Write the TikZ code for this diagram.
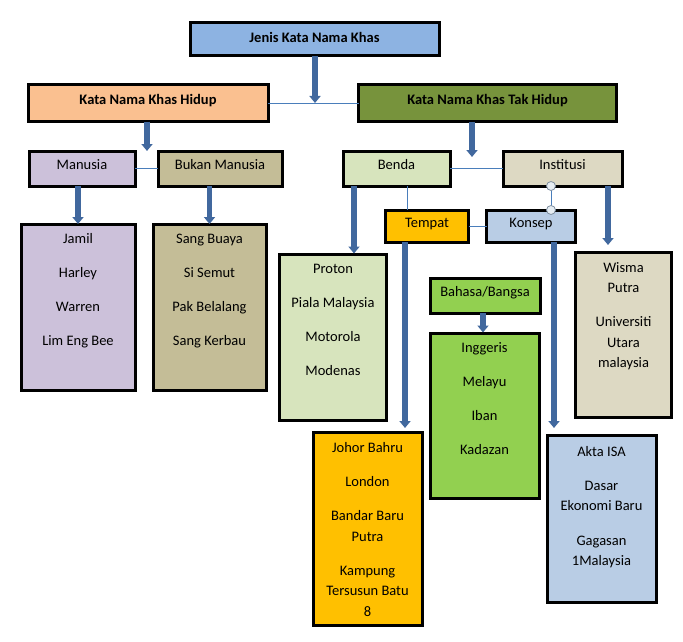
\documentclass[tikz,border=0pt]{standalone}
\usepackage{fontspec}
\setmainfont{Carlito}
\usetikzlibrary{arrows.meta}
\definecolor{cJenis}{HTML}{8DB3E2}
\definecolor{cHidup}{HTML}{FAC090}
\definecolor{cTak}{HTML}{77933C}
\definecolor{cManusia}{HTML}{CCC1DA}
\definecolor{cBukan}{HTML}{C4BD97}
\definecolor{cBenda}{HTML}{D7E4BD}
\definecolor{cInst}{HTML}{DDD9C3}
\definecolor{cTempat}{HTML}{FFC000}
\definecolor{cKonsep}{HTML}{B9CDE5}
\definecolor{cBahasa}{HTML}{92D050}
\definecolor{cArrow}{HTML}{41689E}
\definecolor{cLine}{HTML}{4A7EBB}
\definecolor{cHandle}{HTML}{E6EDF3}
\definecolor{cHandleB}{HTML}{7F8FA0}
\tikzset{
  box/.style={draw=black, line width=3pt, rectangle, inner sep=0pt, outer sep=0pt,
    font=\fontsize{14.5}{20.5}\selectfont, text height=9pt, text depth=6.6pt},
  listtxt/.style={inner sep=0pt, outer sep=0pt, align=center, anchor=north,
    font=\fontsize{14.5}{20.5}\selectfont},
  bigarrow/.style={draw=cArrow, line width=5.3pt, -{Triangle[width=11pt,length=7pt]}},
  thinline/.style={draw=cLine, line width=0.9pt},
  handle/.style={circle, draw=cHandleB, fill=cHandle, line width=0.8pt, minimum size=9pt, inner sep=0pt},
}
\newcommand{\st}{\rule{0pt}{12pt}}
\begin{document}
\begin{tikzpicture}[x=1pt,y=-1pt]
\useasboundingbox (0,0) rectangle (683,642);
% boxes
\node[box, fill=cJenis, minimum width=249pt, minimum height=33pt, text height=9pt, text depth=3pt] (jenis) at (314.5,39.5) {\bfseries Jenis Kata Nama Khas};
\node[box, fill=cHidup, minimum width=240pt, minimum height=37pt] (hidup) at (148,103) {\bfseries Kata Nama Khas Hidup};
\node[box, fill=cTak, minimum width=258pt, minimum height=37pt] (tak) at (487.5,103) {\bfseries Kata Nama Khas Tak Hidup};
\node[box, fill=cManusia, minimum width=106pt, minimum height=35pt] (manusia) at (82,168.5) {Manusia};
\node[box, fill=cBukan, minimum width=124pt, minimum height=35pt] (bukan) at (220,168.5) {Bukan Manusia};
\node[box, fill=cManusia, minimum width=114pt, minimum height=166pt] (jamil) at (78,307) {};
\node[box, fill=cBukan, minimum width=113pt, minimum height=166pt] (sang) at (209.5,307) {};
\node[box, fill=cBenda, minimum width=107pt, minimum height=35pt] (benda) at (396.5,168.5) {Benda};
\node[box, fill=cInst, minimum width=119pt, minimum height=35pt] (inst) at (562.5,168.5) {Institusi};
\node[box, fill=cTempat, minimum width=83pt, minimum height=32pt] (tempat) at (427,226) {Tempat};
\node[box, fill=cKonsep, minimum width=89pt, minimum height=32pt] (konsep) at (531,226) {Konsep};
\node[box, fill=cBenda, minimum width=107pt, minimum height=166pt] (proton) at (333,337) {};
\node[box, fill=cInst, minimum width=96pt, minimum height=165pt] (wisma) at (623.5,334.5) {};
\node[box, fill=cBahasa, minimum width=110pt, minimum height=35pt] (bahasa) at (485,295.5) {Bahasa/Bangsa};
\node[box, fill=cBahasa, minimum width=109pt, minimum height=165pt] (inggeris) at (484.5,415.5) {};
\node[box, fill=cTempat, minimum width=109pt, minimum height=193pt] (johor) at (367.5,528.5) {};
\node[box, fill=cKonsep, minimum width=109pt, minimum height=167pt] (akta) at (601.5,518.5) {};
% list texts (first baseline = anchor y + 12)
\node[listtxt] (tjamil) at (78,231) {\st Jamil\\[13.8pt] Harley\\[13.8pt] Warren\\[13.8pt] Lim Eng Bee};
\node[listtxt] (tsang) at (209.5,231) {\st Sang Buaya\\[13.8pt] Si Semut\\[13.8pt] Pak Belalang\\[13.8pt] Sang Kerbau};
\node[listtxt] (tproton) at (333,261) {\st Proton\\[13.8pt] Piala Malaysia\\[13.8pt] Motorola\\[13.8pt] Modenas};
\node[listtxt] (twisma) at (623.5,260) {\st Wisma\\ Putra\\[13.8pt] Universiti\\ Utara\\ malaysia};
\node[listtxt] (tinggeris) at (484.5,340) {\st Inggeris\\[13.8pt] Melayu\\[13.8pt] Iban\\[13.8pt] Kadazan};
\node[listtxt] (tjohor) at (367.5,440) {\st Johor Bahru\\[13.8pt] London\\[13.8pt] Bandar Baru\\ Putra\\[13.8pt] Kampung\\ Tersusun Batu\\ 8};
\node[listtxt] (takta) at (601.5,444) {\st Akta ISA\\[13.8pt] Dasar\\ Ekonomi Baru\\[13.8pt] Gagasan\\ 1Malaysia};
% thin connectors
\draw[thinline] (hidup.east) -- (tak.west);
\draw[thinline] (manusia.east) -- (bukan.west);
\draw[thinline] (benda.east) -- (inst.west);
\draw[thinline] (tempat.east) -- (konsep.west);
\draw[thinline] (benda.south -| 407,0) -- (tempat.north -| 407,0);
\coordinate (hA) at (inst.south -| 551,0);
\coordinate (hB) at (konsep.north -| 551,0);
\draw[thinline] (hA) -- (hB);
\node[handle] (h1) at (hA) {};
\node[handle] (h2) at (hB) {};
% thick arrows
\coordinate (e1) at (315,103);
\draw[bigarrow] (jenis.south -| e1) -- (e1);
\coordinate (e2) at (147,151);
\draw[bigarrow] (hidup.south -| e2) -- (e2);
\coordinate (e3) at (472,157);
\draw[bigarrow] (tak.south -| e3) -- (e3);
\draw[bigarrow] (manusia.south -| jamil.north) -- (jamil.north);
\draw[bigarrow] (bukan.south -| sang.north) -- (sang.north);
\coordinate (e6) at (354,253.5);
\draw[bigarrow] (benda.south -| e6) -- (e6);
\coordinate (e7) at (608,245);
\draw[bigarrow] (inst.south -| e7) -- (e7);
\coordinate (e8) at (405,428);
\draw[bigarrow] (tempat.south -| e8) -- (e8);
\coordinate (e9) at (554,428);
\draw[bigarrow] (konsep.south -| e9) -- (e9);
\coordinate (e10) at (483,332.5);
\draw[bigarrow] (bahasa.south -| e10) -- (e10);
\end{tikzpicture}
\end{document}
